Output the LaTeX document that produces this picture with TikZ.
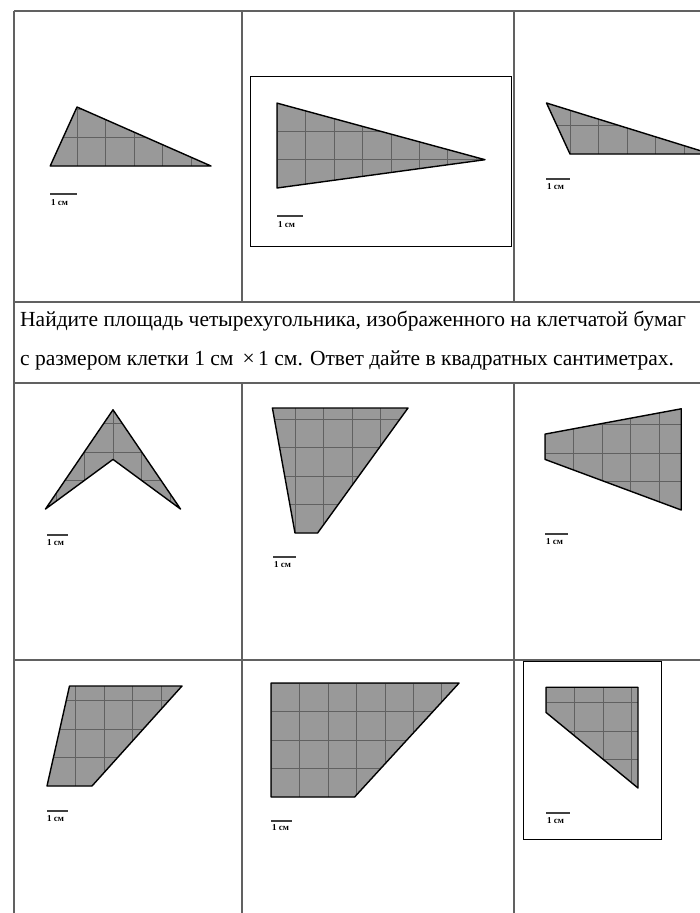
\documentclass[tikz,border=0pt]{standalone}
\usepackage{fontspec}
\setmainfont{Liberation Serif}
\begin{document}
\begin{tikzpicture}[x=1pt,y=-1pt,
  tabline/.style={draw=black!62,line width=1.3pt},
  shapefill/.style={fill=black!40},
  shapeedge/.style={draw=black,line width=1.4pt,line join=round},
  gridline/.style={draw=black!62,line width=0.6pt},
  scalebar/.style={draw=black!75,line width=2.3pt},
  scaletext/.style={font=\fontsize{9}{10}\selectfont\bfseries,inner sep=0pt,anchor=north west},
  framebox/.style={draw=black,line width=0.9pt},
  tasktext/.style={font=\fontsize{21.5}{24}\selectfont,inner sep=0pt,anchor=base west}]
\useasboundingbox (0,0) rectangle (700,913);
\fill[white] (0,0) rectangle (700,913);
% table
\draw[tabline] (14,11) -- (700,11);
\draw[tabline] (14,302) -- (700,302);
\draw[tabline] (14,383) -- (700,383);
\draw[tabline] (14,660) -- (700,660);
\draw[tabline] (14,11) -- (14,913);
\draw[tabline] (242,11) -- (242,302);
\draw[tabline] (242,383) -- (242,913);
\draw[tabline] (514,11) -- (514,302);
\draw[tabline] (514,383) -- (514,913);
% text
\node[tasktext] (t1) at (20,326) {Найдите площадь четырехугольника, изображенного на клетчатой бумаг};
\node[tasktext] (t2) at (20,365) {с размером клетки 1 см \,×\,1 см. Ответ дайте в квадратных сантиметрах.};
% frames
\draw[framebox] (250,76) rectangle (511,246);
\draw[framebox] (523,661) rectangle (661,839);
% macro for figure: #1 origin, #2 cx, #3 cy, #4 polygon path, #5 grid rectangle
\newcommand{\gridfig}[5]{%
  \begin{scope}[shift={#1},x=#2pt,y=#3pt]
    \fill[shapefill] #4 -- cycle;
    \begin{scope}
      \clip #4 -- cycle;
      \draw[gridline] #5;
    \end{scope}
    \draw[shapeedge] #4 -- cycle;
  \end{scope}}
% figure 1
\gridfig{(77,166)}{26.8}{29.5}{(-1,0) -- (0,2) -- (5,0)}{(-1,0) grid (5,2)}
% figure 2
\gridfig{(277,188)}{26}{28.3}{(0,0) -- (0,3) -- (8,1)}{(0,0) grid (8,3)}
% figure 3 (clipped at the page edge)
\begin{scope}
  \clip (514,0) rectangle (700,300);
  \gridfig{(570,154)}{23.5}{25.5}{(-1,2) -- (0,0) -- (6,0)}{(-1,0) grid (6,2)}
\end{scope}
% figure 4
\gridfig{(113,509)}{22.5}{24.8}{(-3,0) -- (0,4) -- (3,0) -- (0,2)}{(-3,0) grid (3,4)}
% figure 5
\gridfig{(295,533)}{22.6}{25}{(-1,5) -- (5,5) -- (1,0) -- (0,0)}{(-1,0) grid (5,5)}
% figure 6
\gridfig{(545,510)}{22.7}{25.3}{(0,2) -- (0,3) -- (6,4) -- (6,0)}{(0,0) grid (6,4)}
% figure 7
\gridfig{(47,786)}{22.5}{25}{(0,0) -- (1,4) -- (6,4) -- (2,0)}{(0,0) grid (6,4)}
% figure 8
\gridfig{(271,797)}{20.9}{22.8}{(0,0) -- (0,5) -- (9,5) -- (4,0)}{(0,0) grid (9,5)}
% figure 9
\gridfig{(546,788)}{23}{25.2}{(0,3) -- (0,4) -- (4,4) -- (4,0)}{(0,0) grid (4,4)}
% scale bars
\coordinate (s1a) at (50,194); \coordinate (s1b) at (77,194);
\draw[scalebar] (s1a) -- (s1b); \node[scaletext] (l1) at (51,199) {1 см};
\coordinate (s2a) at (277,216); \coordinate (s2b) at (303,216);
\draw[scalebar] (s2a) -- (s2b); \node[scaletext] (l2) at (278,221) {1 см};
\coordinate (s3a) at (546,179); \coordinate (s3b) at (570,179);
\draw[scalebar] (s3a) -- (s3b); \node[scaletext] (l3) at (547,183) {1 см};
\coordinate (s4a) at (47,535); \coordinate (s4b) at (68,535);
\draw[scalebar] (s4a) -- (s4b); \node[scaletext] (l4) at (47,539) {1 см};
\coordinate (s5a) at (273,557); \coordinate (s5b) at (296,557);
\draw[scalebar] (s5a) -- (s5b); \node[scaletext] (l5) at (274,561) {1 см};
\coordinate (s6a) at (545,534); \coordinate (s6b) at (568,534);
\draw[scalebar] (s6a) -- (s6b); \node[scaletext] (l6) at (546,538) {1 см};
\coordinate (s7a) at (47,811); \coordinate (s7b) at (68,811);
\draw[scalebar] (s7a) -- (s7b); \node[scaletext] (l7) at (47,815) {1 см};
\coordinate (s8a) at (271,821); \coordinate (s8b) at (292,821);
\draw[scalebar,line width=1.2pt] (s8a) -- (s8b); \node[scaletext] (l8) at (272,824) {1 см};
\coordinate (s9a) at (546,813); \coordinate (s9b) at (570,813);
\draw[scalebar] (s9a) -- (s9b); \node[scaletext] (l9) at (547,817) {1 см};
\end{tikzpicture}
\end{document}
